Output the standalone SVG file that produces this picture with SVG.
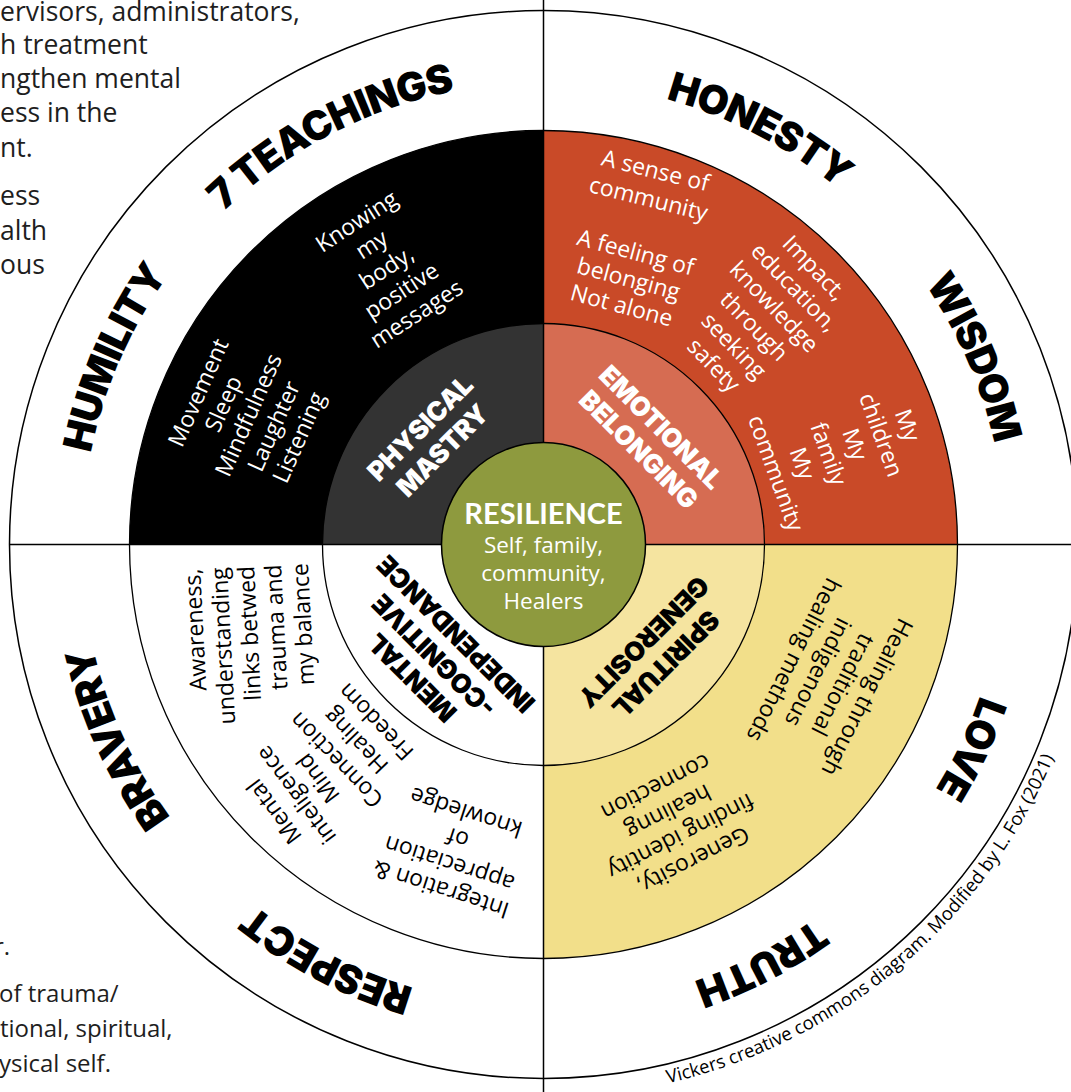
<svg xmlns="http://www.w3.org/2000/svg" width="1071" height="1092" viewBox="0 0 1071 1092">
<style>
.side{font-family:"Open Sans","Liberation Sans",sans-serif;fill:#1e1e1e;}
.lbl{font-family:Inter,"Liberation Sans",sans-serif;font-weight:900;font-size:40px;letter-spacing:-0.8px;fill:#000;}
.mid{font-family:Inter,"Liberation Sans",sans-serif;font-weight:900;font-size:26.5px;letter-spacing:-0.3px;text-anchor:middle;}
.txt{font-family:"Open Sans","Liberation Sans",sans-serif;font-size:23px;text-anchor:middle;}
.end{text-anchor:end;}
.w{fill:#fff;}
.k{fill:#000;}
.edge{fill:none;stroke:#000;stroke-width:1.3;}
.div{stroke:#000;stroke-width:1.5;fill:none;}
</style>
<defs>
<path id="a1" d="M102.9,405.6 A462,462 0 0 1 682.4,103.9"/>
<path id="a2" d="M404.6,103.9 A462,462 0 0 1 984.1,405.6"/>
<path id="a3" d="M712.8,114.7 A462,462 0 0 1 973.3,713.8"/>
<path id="a4" d="M979.0,390.3 A462,462 0 0 1 697.7,980.0"/>
<path id="a5" d="M984.1,683.4 A462,462 0 0 1 404.6,985.1"/>
<path id="a6" d="M682.4,985.1 A462,462 0 0 1 102.9,683.4"/>
<path id="a7" d="M381.7,977.3 A462,462 0 0 1 110.7,382.7"/>
<path id="a8" d="M113.7,713.8 A462,462 0 0 1 374.2,114.7"/>
<path id="cr" d="M639.5,1089.1 A553,553 0 0 0 1069.4,715.4"/>
</defs>
<rect x="0" y="0" width="1071" height="1092" fill="#fff"/>

<g id="side-text-top" class="side" font-size="26.5">
<text x="0" y="21">ervisors, administrators,</text>
<text x="0" y="54">h treatment</text>
<text x="0" y="88">ngthen mental</text>
<text x="0" y="122">ess in the</text>
<text x="0" y="157">nt.</text>
<text x="0" y="205">ess</text>
<text x="0" y="240">alth</text>
<text x="0" y="274">ous</text>
</g>
<g id="side-text-bottom" class="side" font-size="24">
<text x="-6" y="955">r.</text>
<text x="-1" y="1002">of trauma/</text>
<text x="0" y="1037">tional, spiritual,</text>
<text x="-1" y="1072">ysical self.</text>
</g>

<g id="outer-ring">
<circle cx="543.5" cy="544.5" r="534" fill="#fff" stroke="#000" stroke-width="1.5"/>
</g>

<g id="quadrants-outer">
<path d="M543.5,544.5 L129.5,544.5 A414,414 0 0 1 543.5,130.5 Z" fill="#000"/>
<path d="M543.5,544.5 L543.5,130.5 A414,414 0 0 1 957.5,544.5 Z" fill="#c94a28"/>
<path d="M543.5,544.5 L957.5,544.5 A414,414 0 0 1 543.5,958.5 Z" fill="#f2df8a"/>
<path d="M543.5,544.5 L543.5,958.5 A414,414 0 0 1 129.5,544.5 Z" fill="#fff"/>
<circle class="edge" cx="543.5" cy="544.5" r="414"/>
</g>

<g id="quadrants-middle">
<path d="M543.5,544.5 L322.5,544.5 A221,221 0 0 1 543.5,323.5 Z" fill="#333333"/>
<path d="M543.5,544.5 L543.5,323.5 A221,221 0 0 1 764.5,544.5 Z" fill="#d66c52"/>
<path d="M543.5,544.5 L764.5,544.5 A221,221 0 0 1 543.5,765.5 Z" fill="#f5e4a0"/>
<path d="M543.5,544.5 L543.5,765.5 A221,221 0 0 1 322.5,544.5 Z" fill="#fff"/>
<circle class="edge" cx="543.5" cy="544.5" r="221"/>
</g>

<g id="connectors">
<line class="div" x1="10" y1="544.5" x2="1071" y2="544.5"/>
<line class="div" x1="543.5" y1="0" x2="543.5" y2="1092"/>
</g>

<g id="teachings">
<text id="t-7teachings" class="lbl"><textPath href="#a1" startOffset="50%" text-anchor="middle">7 TEACHINGS</textPath></text>
<text id="t-honesty" class="lbl"><textPath href="#a2" startOffset="50%" text-anchor="middle">HONESTY</textPath></text>
<text id="t-wisdom" class="lbl"><textPath href="#a3" startOffset="50%" text-anchor="middle">WISDOM</textPath></text>
<text id="t-love" class="lbl"><textPath href="#a4" startOffset="50%" text-anchor="middle">LOVE</textPath></text>
<text id="t-truth" class="lbl"><textPath href="#a5" startOffset="50%" text-anchor="middle">TRUTH</textPath></text>
<text id="t-respect" class="lbl"><textPath href="#a6" startOffset="50%" text-anchor="middle">RESPECT</textPath></text>
<text id="t-bravery" class="lbl"><textPath href="#a7" startOffset="50%" text-anchor="middle">BRAVERY</textPath></text>
<text id="t-humility" class="lbl"><textPath href="#a8" startOffset="50%" text-anchor="middle">HUMILITY</textPath></text>
</g>

<g id="physical-notes" class="txt w">
<g transform="translate(248.5,415) rotate(-66)">
<text x="0" y="-47">Movement</text>
<text x="0" y="-19.5">Sleep</text>
<text x="0" y="8">Mindfulness</text>
<text x="0" y="35.5">Laughter</text>
<text x="0" y="63">Listening</text>
</g>
<g transform="translate(386.5,267.5) rotate(-33)">
<text x="0" y="-47">Knowing</text>
<text x="0" y="-19.5">my</text>
<text x="0" y="8">body,</text>
<text x="0" y="35.5">positive</text>
<text x="0" y="63">messages</text>
</g>
</g>

<g id="emotional-notes" class="txt w">
<g transform="translate(652,184.5) rotate(14)">
<text x="0" y="-6.5">A sense of</text>
<text x="0" y="22.5">community</text>
</g>
<g transform="translate(628.7,278.8) rotate(15)">
<text x="0" y="-19.5">A feeling of</text>
<text x="0" y="8">belonging</text>
<text x="0" y="35.5">Not alone</text>
</g>
<g transform="translate(764.2,316.4) rotate(46)">
<text x="0" y="-62">Impact,</text>
<text x="0" y="-34">education,</text>
<text x="0" y="-6">knowledge</text>
<text x="0" y="22">through</text>
<text x="0" y="50">seeking</text>
<text x="0" y="78">safety</text>
</g>
<g transform="translate(841.8,449.1) rotate(70)">
<text x="0" y="-62">My</text>
<text x="0" y="-34">children</text>
<text x="0" y="-6">My</text>
<text x="0" y="22">family</text>
<text x="0" y="50">My</text>
<text x="0" y="78">community</text>
</g>
</g>

<g id="mental-notes" class="txt k">
<g transform="translate(246,566) rotate(-93)">
<text class="end" x="0" y="-46">Awareness,</text>
<text class="end" x="0" y="-19">understanding</text>
<text class="end" x="0" y="8">links betwed</text>
<text class="end" x="0" y="35">trauma and</text>
<text class="end" x="0" y="62">my balance</text>
</g>
<g transform="translate(356,741) rotate(-134)">
<text x="0" y="-19.5">Connection</text>
<text x="0" y="8">Healing</text>
<text x="0" y="35.5">Freedom</text>
</g>
<g transform="translate(296,795) rotate(-127)">
<text x="0" y="-19.5">Mental</text>
<text x="0" y="8">inteligence</text>
<text x="0" y="35.5">Mind</text>
</g>
<g transform="translate(453.5,851) rotate(-162)">
<text x="0" y="-32.5">Integration &amp;</text>
<text x="0" y="-5.5">appreciation</text>
<text x="0" y="21.5">of</text>
<text x="0" y="48.5">knowledge</text>
</g>
</g>

<g id="spiritual-notes" class="txt k">
<g transform="translate(830.6,678.6) rotate(117)">
<text x="0" y="-33.25">Healing through</text>
<text x="0" y="-5.75">traditional</text>
<text x="0" y="21.75">indigenous</text>
<text x="0" y="49.25">healing methods</text>
</g>
<g transform="translate(674.6,823.9) rotate(153)">
<text x="0" y="-33.25">Generosity,</text>
<text x="0" y="-5.75">finding identity</text>
<text x="0" y="21.75">healinng</text>
<text x="0" y="49.25">connection</text>
</g>
</g>

<g id="node-physical" class="mid w">
<g transform="translate(431,439) rotate(-45)">
<text x="0" y="-6">PHYSICAL</text>
<text x="0" y="25.5">MASTRY</text>
</g>
</g>
<g id="node-emotional" class="mid w">
<g transform="translate(650,438) rotate(45)">
<text x="0" y="-6">EMOTIONAL</text>
<text x="0" y="25.5">BELONGING</text>
</g>
</g>
<g id="node-spiritual" class="mid k">
<g transform="translate(655,653) rotate(135)">
<text x="0" y="-6">SPIRITUAL</text>
<text x="0" y="25.5">GENEROSITY</text>
</g>
</g>
<g id="node-mental" class="mid k">
<g transform="translate(434,656) rotate(-135)">
<text x="0" y="-21.5">MENTAL</text>
<text x="0" y="9.5">-COGNITIVE</text>
<text x="0" y="40.5">INDEPENDANCE</text>
</g>
</g>

<g id="node-resilience">
<circle cx="543.5" cy="544.5" r="102" fill="#8e9a3e" stroke="#000" stroke-width="1.5"/>
<text x="543.5" y="524" text-anchor="middle" font-family="Lato, 'Liberation Sans', sans-serif" font-weight="700" font-size="29" fill="#fff">RESILIENCE</text>
<g font-family="'Open Sans', 'Liberation Sans', sans-serif" font-size="22.5" fill="#fff" text-anchor="middle">
<text x="543.5" y="553">Self, family,</text>
<text x="543.5" y="581">community,</text>
<text x="543.5" y="609">Healers</text>
</g>
</g>

<g id="credit">
<text font-family="'Open Sans', 'Liberation Sans', sans-serif" font-size="18.5" fill="#000"><textPath href="#cr" startOffset="48.7%" text-anchor="middle">Vickers creative commons diagram. Modified by L. Fox (2021)</textPath></text>
</g>
</svg>
